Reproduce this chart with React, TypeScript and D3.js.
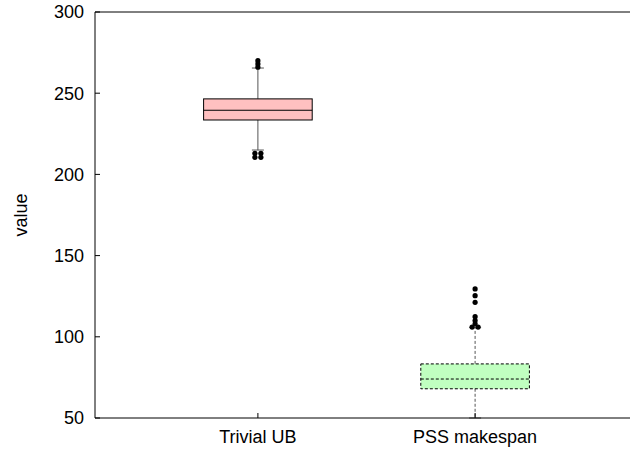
import React from "react";
import * as d3 from "d3";

// Box-plot summaries per category
const categories = ["Trivial UB", "PSS makespan"];
const whiskerLow = [215, 50];
const quartile1 = [233.5, 68];
const medians = [239.5, 74];
const quartile3 = [246.5, 83.3];
const whiskerHigh = [265.5, 105.8];
const outliers: number[][] = [
  [270, 268, 266, 213, 213, 210.5, 210.5],
  [129.5, 125.3, 121.2, 112.4, 110, 108, 106, 106],
];
const fills = ["#ffc0c0", "#c0ffc0"];
const dashed = [false, true];
const yTicks = [50, 100, 150, 200, 250, 300];

const W = 630;
const H = 452;
const M = { left: 95, top: 12, bottom: 418, right: 638 };

export default function App() {
  const x = d3.scaleLinear().domain([0.25, 2.75]).range([M.left, M.right]);
  const y = d3.scaleLinear().domain([50, 300]).range([M.bottom, M.top]);
  const boxHalf = x(1.25) - x(1);
  const capHalf = 6;
  const font = "Liberation Sans, Arial, sans-serif";
  const fs = 18;

  return (
    <svg
      width={W}
      height={H}
      style={{ position: "absolute", left: 0, top: 0 }}
      fontFamily={font}
    >
      <rect width={W} height={H} fill="#fff" />
      {categories.map((c, i) => {
        const cx = x(i + 1);
        const dash = dashed[i] ? "3,2" : undefined;
        const counts = new Map<number, number>();
        outliers[i].forEach((v) => counts.set(v, (counts.get(v) || 0) + 1));
        const seen = new Map<number, number>();
        return (
          <g key={c}>
            {/* whiskers */}
            <line x1={cx} x2={cx} y1={y(quartile3[i])} y2={y(whiskerHigh[i])} stroke="#555" strokeDasharray={dash} />
            <line x1={cx} x2={cx} y1={y(quartile1[i])} y2={y(whiskerLow[i])} stroke="#555" strokeDasharray={dash} />
            <line x1={cx - capHalf} x2={cx + capHalf} y1={y(whiskerHigh[i])} y2={y(whiskerHigh[i])} stroke="#555" />
            <line x1={cx - capHalf} x2={cx + capHalf} y1={y(whiskerLow[i])} y2={y(whiskerLow[i])} stroke="#555" />
            {/* box */}
            <rect
              x={cx - boxHalf}
              y={y(quartile3[i])}
              width={boxHalf * 2}
              height={y(quartile1[i]) - y(quartile3[i])}
              fill={fills[i]}
              stroke="#000"
              strokeDasharray={dash}
            />
            <line x1={cx - boxHalf} x2={cx + boxHalf} y1={y(medians[i])} y2={y(medians[i])} stroke="#000" strokeDasharray={dash} />
            {/* outliers, equal values spread sideways */}
            {outliers[i].map((v, k) => {
              const n = counts.get(v) || 1;
              const j = seen.get(v) || 0;
              seen.set(v, j + 1);
              const off = (j - (n - 1) / 2) * 6;
              return <circle key={k} cx={cx + off} cy={y(v)} r={2.6} fill="#000" />;
            })}
          </g>
        );
      })}
      {/* frame */}
      <line x1={M.left} x2={M.left} y1={M.top} y2={M.bottom} stroke="#000" />
      <line x1={M.left} x2={W} y1={M.top} y2={M.top} stroke="#000" />
      <line x1={M.left} x2={W} y1={M.bottom} y2={M.bottom} stroke="#000" />
      {/* y ticks */}
      {yTicks.map((t) => (
        <g key={t}>
          <line x1={M.left} x2={M.left + 5} y1={y(t)} y2={y(t)} stroke="#000" />
          <text x={M.left - 11} y={y(t)} dy="0.36em" textAnchor="end" fontSize={fs} fill="#000">
            {t}
          </text>
        </g>
      ))}
      {/* x ticks */}
      {categories.map((c, i) => (
        <g key={c}>
          <line x1={x(i + 1)} x2={x(i + 1)} y1={M.bottom} y2={M.bottom - 5} stroke="#000" />
          <text x={x(i + 1)} y={443} textAnchor="middle" fontSize={fs} fill="#000">
            {c}
          </text>
        </g>
      ))}
      <text
        transform={`translate(27,${(M.top + M.bottom) / 2}) rotate(-90)`}
        textAnchor="middle"
        fontSize={fs}
        fill="#000"
      >
        value
      </text>
    </svg>
  );
}
